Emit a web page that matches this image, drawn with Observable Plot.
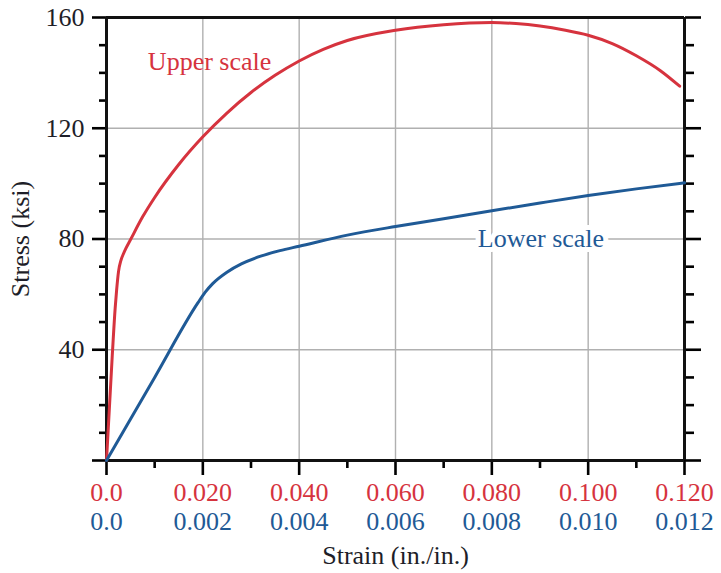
<!DOCTYPE html>
<html>
<head>
<meta charset="utf-8">
<script src="https://cdn.jsdelivr.net/npm/d3@7"></script>
<script src="https://cdn.jsdelivr.net/npm/@observablehq/plot@0.6"></script>
<style>
  html, body { margin: 0; padding: 0; background: #fff; }
</style>
</head>
<body>
<div id="chart"></div>
<script>
// Upper-scale curve (red): strain (in./in.), stress (ksi)
const upperStrain = [0, 0.0012, 0.0018, 0.0021, 0.0025, 0.003, 0.0035, 0.004, 0.005, 0.0075, 0.01, 0.015, 0.02, 0.025, 0.03, 0.035, 0.04, 0.045, 0.05, 0.06, 0.07, 0.08, 0.085, 0.09, 0.095, 0.1, 0.105, 0.11, 0.115, 0.119];
const upperStress = [0, 38, 55, 61.5, 68.3, 72.3, 74.6, 76.5, 79.8, 88, 95, 106.9, 116.9, 125.5, 132.9, 139.1, 144.3, 148.5, 151.7, 155.4, 157.4, 158.2, 157.8, 156.9, 155.5, 153.6, 150.6, 146.2, 140.8, 135.2];

// Lower-scale curve (blue): strain (in./in.), stress (ksi)
const lowerStrain = [0, 0.001, 0.0019, 0.00205, 0.0022, 0.0025, 0.0028, 0.0032, 0.0036, 0.004, 0.005, 0.006, 0.007, 0.008, 0.009, 0.01, 0.011, 0.012];
const lowerStress = [0, 30, 57, 60.8, 63.8, 68, 71, 73.8, 75.8, 77.4, 81.4, 84.5, 87.3, 90.2, 93.0, 95.7, 98.1, 100.3];

// Tick values and labels
const xMajor = [0, 0.02, 0.04, 0.06, 0.08, 0.10, 0.12];
const xMinor = [0.01, 0.03, 0.05, 0.07, 0.09, 0.11];
const upperLabels = ["0.0", "0.020", "0.040", "0.060", "0.080", "0.100", "0.120"];
const lowerLabels = ["0.0", "0.002", "0.004", "0.006", "0.008", "0.010", "0.012"];
const xGrid = [0.02, 0.04, 0.06, 0.08, 0.10];
const yMajor = [0, 40, 80, 120, 160];
const yMinor = [10, 20, 30, 50, 60, 70, 90, 100, 110, 130, 140, 150];
const yLabels = [40, 80, 120, 160];
const yGrid = [40, 80, 120];

const RED = "#d6333e";
const BLUE = "#1f5a96";
const INK = "#1e1e28";
const FONT = "Liberation Serif, Times New Roman, serif";
const FS = 26;
const lowerToUpper = 10; // lower scale is 1/10 of upper scale

const upper = upperStrain.map((s, i) => ({x: s, y: upperStress[i]}));
const lower = lowerStrain.map((s, i) => ({x: s * lowerToUpper, y: lowerStress[i]}));
const xLabelRows = xMajor.map((v, i) => ({v, up: upperLabels[i], lo: lowerLabels[i]}));

const chart = Plot.plot({
  width: 721,
  height: 573,
  marginLeft: 106,
  marginRight: 37,
  marginTop: 17,
  marginBottom: 113,
  style: {fontFamily: FONT, background: "#fff"},
  x: {domain: [0, 0.12], axis: null},
  y: {domain: [0, 160], axis: null},
  marks: [
    Plot.gridX(xGrid, {stroke: "#b0b0b0", strokeOpacity: 1, strokeWidth: 1.4}),
    Plot.gridY(yGrid, {stroke: "#b0b0b0", strokeOpacity: 1, strokeWidth: 1.4}),
    // axis ticks
    Plot.axisX({ticks: xMajor, anchor: "bottom", tickSize: 15, tickFormat: () => "", strokeWidth: 2.6, label: null}),
    Plot.axisX({ticks: xMinor, anchor: "bottom", tickSize: 8, tickFormat: () => "", strokeWidth: 2.6, label: null}),
    Plot.axisY({ticks: yMajor, anchor: "left", tickSize: 14, tickFormat: () => "", strokeWidth: 2.6, label: null}),
    Plot.axisY({ticks: yMinor, anchor: "left", tickSize: 7, tickFormat: () => "", strokeWidth: 2.6, label: null}),
    Plot.axisY({ticks: yMajor, anchor: "right", tickSize: 16, tickFormat: () => "", strokeWidth: 2.6, label: null}),
    Plot.axisY({ticks: yMinor, anchor: "right", tickSize: 9, tickFormat: () => "", strokeWidth: 2.6, label: null}),
    // frame lines
    Plot.ruleX([0, 0.12], {stroke: "#111", strokeWidth: 3}),
    Plot.ruleY([0, 160], {stroke: "#111", strokeWidth: 3}),
    // curves
    Plot.line(upper, {x: "x", y: "y", stroke: RED, strokeWidth: 3, curve: "monotone-x"}),
    Plot.line(lower, {x: "x", y: "y", stroke: BLUE, strokeWidth: 3, curve: "monotone-x"}),
    // curve labels
    Plot.text(["Upper scale"], {x: 0.0214, y: 144, text: d => d, fill: RED, fontSize: FS, fontFamily: FONT}),
    Plot.text(["Lower scale"], {x: 0.0902, y: 80, text: d => d, fill: BLUE, fontSize: FS, fontFamily: FONT,
      stroke: "white", strokeWidth: 10, paintOrder: "stroke"}),
    // x tick labels
    Plot.text(xLabelRows, {x: "v", text: "up", frameAnchor: "bottom", lineAnchor: "middle", dy: 32, fill: RED, fontSize: FS, fontFamily: FONT}),
    Plot.text(xLabelRows, {x: "v", text: "lo", frameAnchor: "bottom", lineAnchor: "middle", dy: 61, fill: BLUE, fontSize: FS, fontFamily: FONT}),
    // y tick labels
    Plot.text(yLabels, {y: d => d, text: d => String(d), frameAnchor: "left", dx: -22, textAnchor: "end", fill: INK, fontSize: FS, fontFamily: FONT}),
    // axis titles
    Plot.text(["Strain (in./in.)"], {frameAnchor: "bottom", lineAnchor: "middle", dy: 95, text: d => d, fill: INK, fontSize: FS, fontFamily: FONT}),
    Plot.text(["Stress (ksi)"], {frameAnchor: "left", textAnchor: "middle", lineAnchor: "middle", dx: -86, rotate: -90, text: d => d, fill: INK, fontSize: FS, fontFamily: FONT})
  ]
});
document.getElementById("chart").appendChild(chart);
</script>
</body>
</html>
